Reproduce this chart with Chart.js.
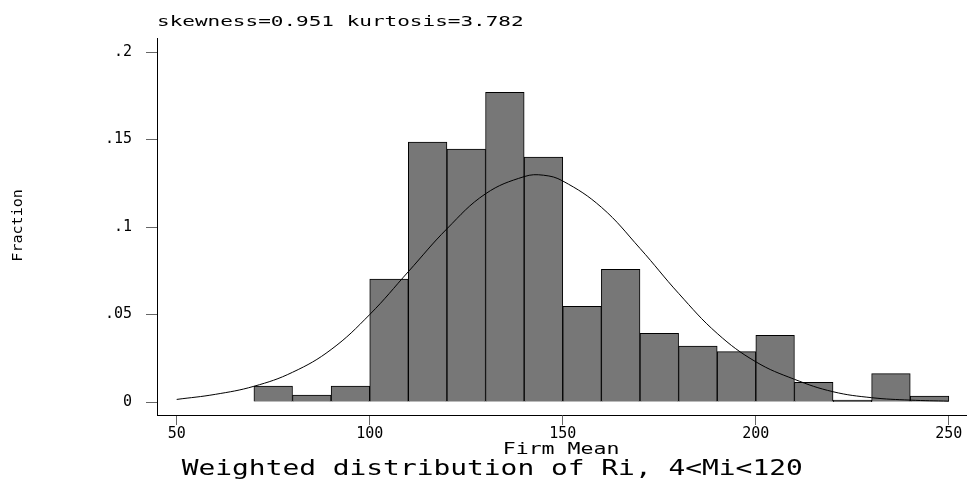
<!DOCTYPE html>
<html>
<head>
<meta charset="utf-8">
<script src="https://cdn.jsdelivr.net/npm/chart.js@4.4.1/dist/chart.umd.min.js"></script>
<style>
html, body { margin: 0; padding: 0; background: #fff; }
#wrap { width: 967px; height: 483px; }
</style>
</head>
<body>
<div id="wrap"><canvas id="hist"></canvas></div>
<script>
// data
const binStarts = [70, 80, 90, 100, 110, 120, 130, 140, 150, 160, 170, 180, 190, 200, 210, 220, 230, 240];
const fractions = [.0091, .004, .0091, .0703, .1486, .1446, .177, .140, .0547, .0758, .0392, .032, .0288, .0381, .0112, .0011, .0162, .0034];
const curveX = [50, 60, 70, 80, 90, 100, 110, 120, 130, 140, 145, 150, 160, 170, 180, 190, 200, 210, 220, 230, 240, 250];
const curveY = [.0015, .0044, .009, .017, .030, .050, .0745, .099, .119, .1288, .1296, .1263, .1113, .0878, .0621, .0392, .023, .013, .0059, .0025, .0011, .0005];
const xTicks = [50, 100, 150, 200, 250];
const yTicks = [0, .05, .1, .15, .2];
const yTickLabels = ['0', '.05', '.1', '.15', '.2'];

const mono = 'DejaVu Sans Mono';

// wide stroke-like labels, drawn straight on the canvas
const textPlugin = {
    id: 'stataText',
    afterDraw(chart) {
        const ctx = chart.ctx;
        const put = (txt, x, y, size, sx, rot) => {
            ctx.save();
            ctx.translate(x, y);
            if (rot) ctx.rotate(rot);
            ctx.scale(sx, 1);
            ctx.font = size + 'px "' + mono + '"';
            ctx.fillStyle = '#000';
            ctx.textAlign = 'left';
            ctx.textBaseline = 'alphabetic';
            ctx.fillText(txt, 0, 0);
            ctx.restore();
        };
        put('skewness=0.951 kurtosis=3.782', 157, 25.7, 14, 1.5);
        put('Firm Mean', 502.7, 454, 15.5, 1.39);
        put('Weighted distribution of Ri, 4<Mi<120', 181.7, 475, 20.5, 1.36);
        put('Fraction', 21.7, 261.7, 14.5, 1.04, -Math.PI / 2);
    }
};

new Chart(document.getElementById('hist'), {
    type: 'bar',
    data: {
        datasets: [
            {
                type: 'line',
                data: curveX.map((x, i) => ({ x: x, y: curveY[i] })),
                borderColor: '#000',
                borderWidth: 1,
                pointRadius: 0,
                tension: 0.4,
                fill: false,
                order: 0
            },
            {
                data: binStarts.map((b, i) => ({ x: b + 5, y: fractions[i] })),
                backgroundColor: '#777777',
                borderColor: '#000',
                borderWidth: 1,
                barPercentage: 1,
                categoryPercentage: 1,
                order: 1
            }
        ]
    },
    options: {
        responsive: true,
        maintainAspectRatio: false,
        animation: false,
        layout: { padding: { top: 38, left: 0, right: 0, bottom: 0 } },
        plugins: { legend: { display: false }, tooltip: { enabled: false } },
        scales: {
            x: {
                type: 'linear',
                offset: false,
                min: 44.9,
                max: 254.7,
                afterBuildTicks: s => { s.ticks = xTicks.map(v => ({ value: v })); },
                afterFit: s => { s.height = 68; },
                grid: { offset: false, drawOnChartArea: false, drawTicks: true, tickLength: 10, color: '#666' },
                border: { color: '#000', width: 1 },
                ticks: { color: '#000', font: { family: mono, size: 15 }, padding: 0, maxRotation: 0, autoSkip: false }
            },
            y: {
                min: -0.0074,
                max: 0.208,
                afterBuildTicks: s => { s.ticks = yTicks.map(v => ({ value: v })); },
                afterFit: s => { s.width = 157; },
                grid: { drawOnChartArea: false, drawTicks: true, tickLength: 11, color: '#666' },
                border: { color: '#000', width: 1 },
                ticks: {
                    color: '#000',
                    font: { family: mono, size: 15 },
                    padding: 14,
                    callback: v => yTickLabels[yTicks.indexOf(v)]
                }
            }
        }
    },
    plugins: [textPlugin]
});
</script>
</body>
</html>
